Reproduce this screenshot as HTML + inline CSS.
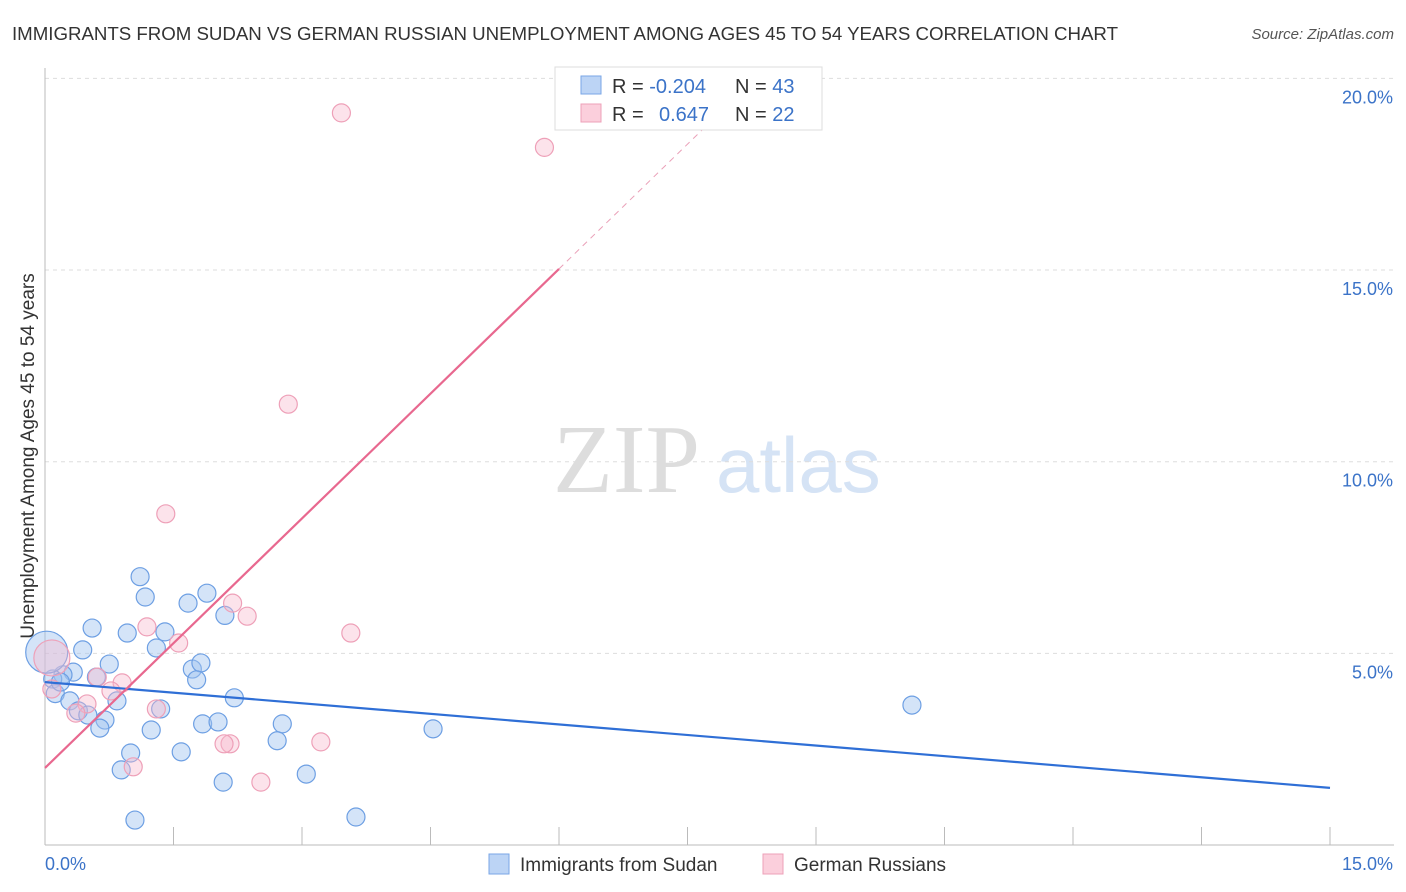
<!DOCTYPE html>
<html><head><meta charset="utf-8"><style>
body{margin:0;background:#fff;font-family:"Liberation Sans",sans-serif;}
#wrap{position:relative;width:1406px;height:892px;overflow:hidden}
</style></head><body>
<div id="wrap">
<svg id="svg" width="1406" height="892">
<text x="12" y="40" font-size="18.7" fill="#333" textLength="1106">IMMIGRANTS FROM SUDAN VS GERMAN RUSSIAN UNEMPLOYMENT AMONG AGES 45 TO 54 YEARS CORRELATION CHART</text>
<text x="1394" y="39" font-size="15" fill="#555" text-anchor="end" font-style="italic">Source: ZipAtlas.com</text>
<text x="34" y="456" font-size="19" fill="#333" text-anchor="middle" transform="rotate(-90 34 456)">Unemployment Among Ages 45 to 54 years</text>
<text x="553" y="492" font-size="98" fill="#ddd" font-family="Liberation Serif">ZIP</text>
<text x="716" y="492" font-size="78" fill="#d5e3f5">atlas</text>
<g id="grid"></g><g id="pts"></g><g id="lines"></g>
<g>
<rect x="555" y="67" width="267" height="63" fill="#fff" stroke="#ddd"/>
<rect x="581" y="76" width="20" height="18" fill="#bcd4f5" stroke="#7aa6e6"/>
<rect x="581" y="104" width="20" height="18" fill="#fbcfdc" stroke="#eea0b8"/>
<text x="612" y="93" font-size="20" fill="#333">R = <tspan fill="#3b73c8">-0.204</tspan><tspan x="735">N = </tspan><tspan fill="#3b73c8">43</tspan></text>
<text x="612" y="121" font-size="20" fill="#333">R = <tspan x="659" fill="#3b73c8">0.647</tspan><tspan x="735">N = </tspan><tspan fill="#3b73c8">22</tspan></text>
</g>
<g>
<rect x="489" y="854" width="20" height="20" fill="#bcd4f5" stroke="#7aa6e6"/>
<text x="520" y="871" font-size="19" fill="#333">Immigrants from Sudan</text>
<rect x="763" y="854" width="20" height="20" fill="#fbcfdc" stroke="#eea0b8"/>
<text x="794" y="871" font-size="19" fill="#333">German Russians</text>
</g>
</svg></div>
<script>
const yTicks=[5,10,15,20];
const yTickLabels=["5.0%","10.0%","15.0%","20.0%"];
const sudanX=[1.11,1.17,0.55,0.96,1.40,0.44,1.30,0.75,0.33,0.21,0.09,0.12,0.29,0.39,0.50,0.70,0.64,0.84,1.67,1.89,2.10,1.72,1.82,1.77,2.21,1.35,1.24,1.84,2.02,2.77,2.71,1.59,1.00,0.89,2.08,3.05,1.05,3.63,4.53,10.12,0.02,0.18,0.60];
const sudanY=[7.0,6.47,5.66,5.53,5.56,5.09,5.14,4.72,4.51,4.44,4.33,3.95,3.76,3.50,3.39,3.26,3.05,3.76,6.31,6.57,5.99,4.59,4.75,4.31,3.84,3.55,3.00,3.16,3.21,3.16,2.72,2.43,2.40,1.96,1.64,1.85,0.65,0.73,3.03,3.65,5.03,4.25,4.38];
const grX=[3.46,5.83,2.84,1.41,2.19,2.36,1.19,1.56,3.57,0.61,0.90,0.77,0.08,0.49,0.36,1.30,2.16,2.09,3.22,2.52,1.03,0.08];
const grY=[19.1,18.2,11.5,8.64,6.31,5.97,5.69,5.27,5.53,4.38,4.23,4.02,4.07,3.68,3.44,3.55,2.64,2.64,2.69,1.64,2.04,4.88];
const grR=[9,9,9,9,9,9,9,9,9,9,9,9,9,9,9,9,9,9,9,9,9,18];
const sudanR=sudanX.map((v,i)=>i==40?21:9);
const blueLine=[4.25,-0.184];
const pinkLine=[2.01,2.17];
const X=v=>45+v/15*1285, Y=v=>845-v*38.33;
const NS="http://www.w3.org/2000/svg";
function mk(t,a,p){const e=document.createElementNS(NS,t);for(const k in a)e.setAttribute(k,a[k]);p.appendChild(e);return e;}
const grid=document.getElementById('grid');
yTicks.forEach((t,i)=>{
 const l=mk('line',{x1:45,x2:1394,y1:Y(t),y2:Y(t),stroke:'#ddd','stroke-dasharray':'4,4'},grid);
 
 
 const tx=mk('text',{x:1393,y:Y(t)+25,'font-size':18,fill:'#3b73c8','text-anchor':'end'},grid);
 tx.textContent=yTickLabels[i];
 
 
});
mk('line',{x1:45,x2:45,y1:68,y2:845,stroke:'#bbb'},grid);
mk('line',{x1:45,x2:1394,y1:845,y2:845,stroke:'#bbb'},grid);
for(let i=1;i<=10;i++){const x=X(i*1.5);mk('line',{x1:x,x2:x,y1:827,y2:845,stroke:'#bbb'},grid);}
let t1=mk('text',{x:45,y:870,'font-size':18,fill:'#3b73c8'},grid);t1.textContent="0.0%";

let t2=mk('text',{x:1393,y:870,'font-size':18,fill:'#3b73c8','text-anchor':'end'},grid);t2.textContent="15.0%";

const pts=document.getElementById('pts');
sudanX.forEach((v,i)=>{const c=mk('circle',{cx:X(v),cy:Y(sudanY[i]),r:sudanR[i],fill:'rgba(160,195,240,0.45)',stroke:'#6d9fe3','stroke-width':1.2},pts);
 
 });
grX.forEach((v,i)=>{const c=mk('circle',{cx:X(v),cy:Y(grY[i]),r:grR[i],fill:'rgba(248,185,205,0.4)',stroke:'#eea0b8','stroke-width':1.2},pts);
 
 });
const lines=document.getElementById('lines');
let b=mk('line',{x1:X(0),y1:Y(blueLine[0]),x2:X(15),y2:Y(blueLine[0]+blueLine[1]*15),stroke:'#2f6fd6','stroke-width':2.2},lines);

const xs=6.0,xe=7.9;
let p=mk('line',{x1:X(0),y1:Y(pinkLine[0]),x2:X(xs),y2:Y(pinkLine[0]+pinkLine[1]*xs),stroke:'#e8688f','stroke-width':2.2},lines);

let pd=mk('line',{x1:X(xs),y1:Y(pinkLine[0]+pinkLine[1]*xs),x2:X(xe),y2:Y(pinkLine[0]+pinkLine[1]*xe),stroke:'#eaa0b8','stroke-width':1,'stroke-dasharray':'6,5'},lines);

</script>
</body></html>
